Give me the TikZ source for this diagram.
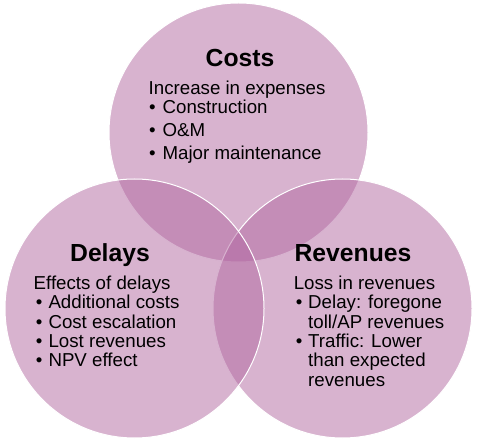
\documentclass[tikz,border=0pt]{standalone}
\usepackage{fontspec}
\setmainfont{Liberation Sans}
\definecolor{vennpurple}{RGB}{177,103,160}

\begin{document}
\begin{tikzpicture}[x=1pt, y=-1pt,
	circ/.style={fill=vennpurple, fill opacity=0.5, draw=white, line width=1pt},
	ttl/.style={font=\fontsize{24.7}{28}\selectfont\bfseries, inner sep=0, anchor=base},
	txt/.style={font=\fontsize{18.7}{22}\selectfont, inner sep=0, anchor=base west}]
	\useasboundingbox (0,0) rectangle (479,443);
	% circles: top, right, left
	\draw[circ] (238.5,132.5) circle [radius=129.5pt];
	\draw[circ] (342.5,308.5) circle [radius=129.5pt];
	\draw[circ] (134.5,308.5) circle [radius=129.5pt];
	% costs
	\node[ttl] (costs) at (240,66.7) {Costs};
	\node[txt] (costsintro) at (148.5,94.3) {Increase in expenses};
	\node[txt] (cb1) at (149,114) {•};
	\node[txt] (ct1) at (162.4,114) {Construction};
	\node[txt] (cb2) at (149,136.7) {•};
	\node[txt] (ct2) at (162.4,136.7) {O\&M};
	\node[txt] (cb3) at (149,159.3) {•};
	\node[txt] (ct3) at (162.4,159.3) {Major maintenance};
	% delays
	\node[ttl] (delays) at (110,261.7) {Delays};
	\node[txt] (delaysintro) at (33.5,289.3) {Effects of delays};
	\node[txt] (db1) at (35.7,309) {•};
	\node[txt] (dt1) at (48.3,309) {Additional costs};
	\node[txt] (db2) at (35.7,328.3) {•};
	\node[txt] (dt2) at (48.3,328.3) {Cost escalation};
	\node[txt] (db3) at (35.7,347.3) {•};
	\node[txt] (dt3) at (48.3,347.3) {Lost revenues};
	\node[txt] (db4) at (35.7,366.7) {•};
	\node[txt] (dt4) at (48.3,366.7) {NPV effect};
	% revenues
	\node[ttl] (revenues) at (353,261.7) {Revenues};
	\node[txt] (revintro) at (293.6,289.3) {Loss in revenues};
	\node[txt] (rb1) at (295.7,309) {•};
	\node[txt] (rt1) at (308,309) {Delay: foregone};
	\node[txt] (rt1b) at (308,328.3) {toll/AP revenues};
	\node[txt] (rb2) at (295.7,347.3) {•};
	\node[txt] (rt2) at (308,347.3) {Traffic: Lower};
	\node[txt] (rt2b) at (308,366.7) {than expected};
	\node[txt] (rt2c) at (308,386) {revenues};
\end{tikzpicture}
\end{document}
